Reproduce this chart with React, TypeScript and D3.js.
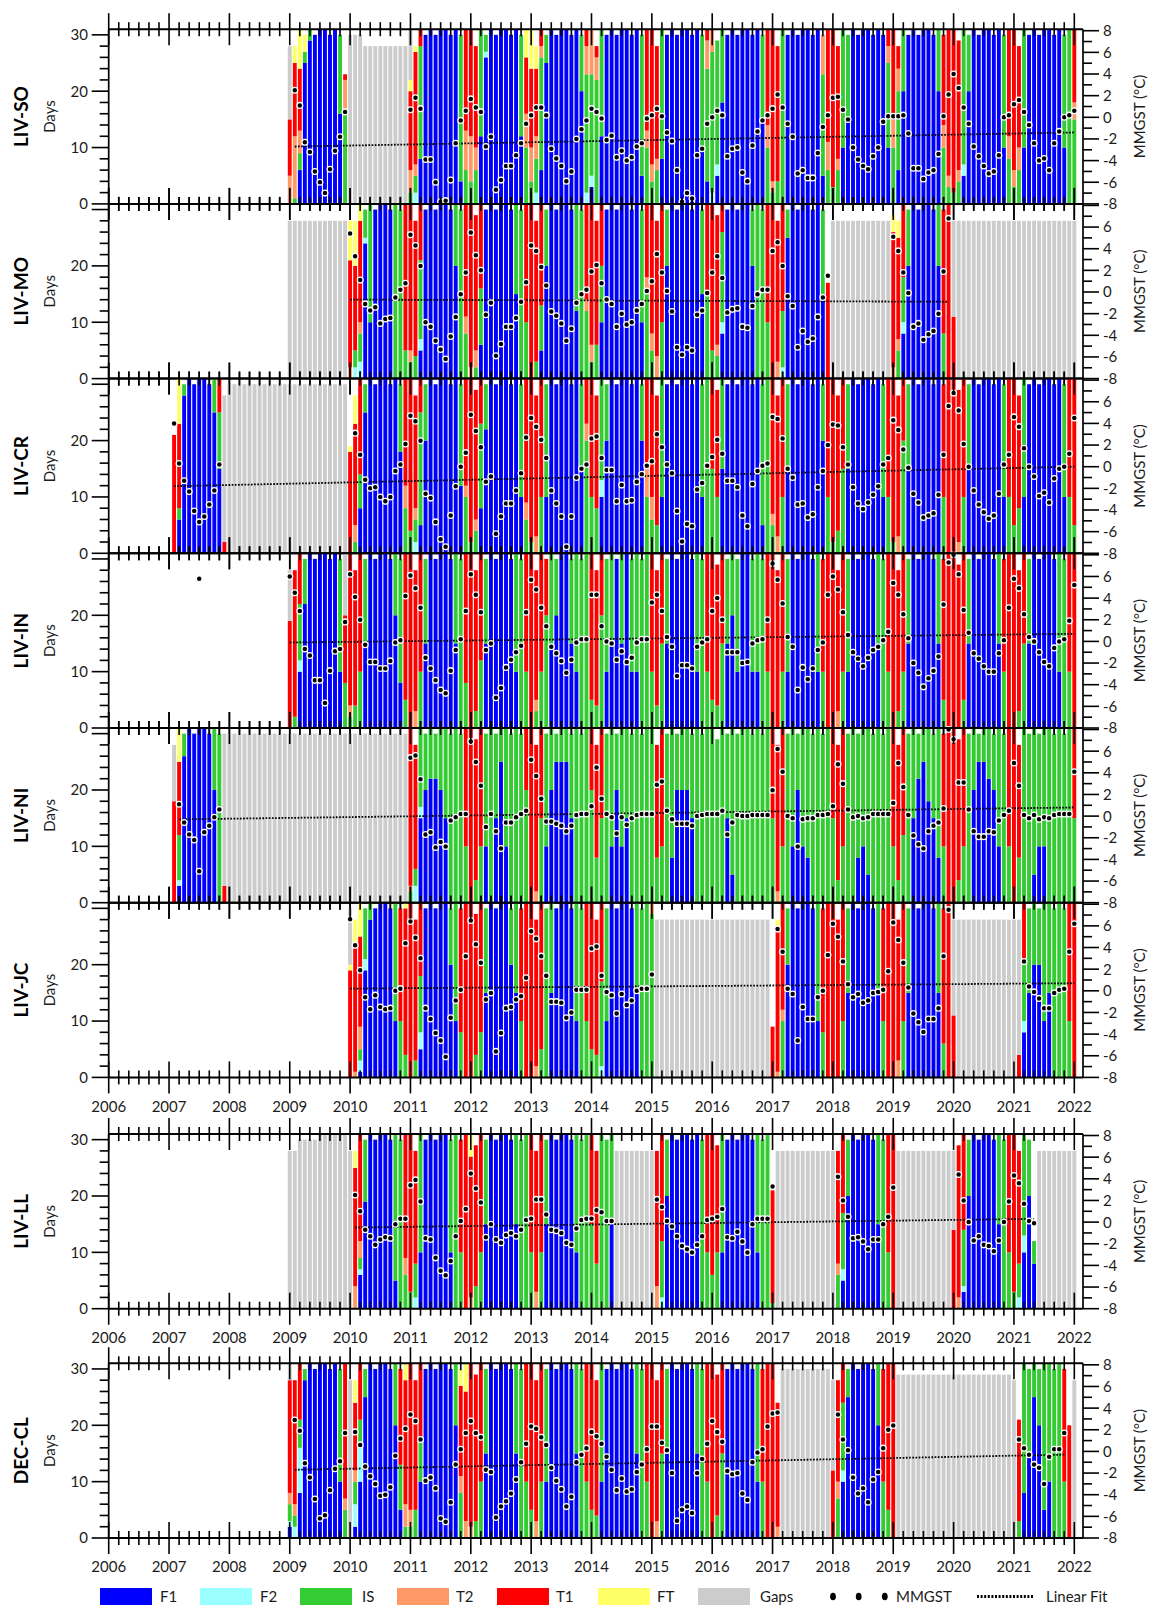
import React from "react";
import * as d3 from "d3";

// ---------- categories ----------
const CAT_KEYS = ["B", "C", "G", "O", "R", "Y", "X"];
const CAT_NAMES = ["F1", "F2", "IS", "T2", "T1", "FT", "Gaps"];
const CAT_COLORS = ["#0000FF", "#99FFFF", "#33CC33", "#FF9966", "#FF0000", "#FFFF66", "#CCCCCC"];

// ---------- tick labels ----------
const YEAR_LABELS = ["2006","2007","2008","2009","2010","2011","2012","2013","2014","2015","2016","2017","2018","2019","2020","2021","2022"];
const DAY_TICKS = [0, 10, 20, 30];
const T_TICKS = [-8, -6, -4, -2, 0, 2, 4, 6, 8];

const N = null;
const GAP12 = "X28 X28 X28 X28 X28 X28 X28 X28 X28 X28 X28 X28";
const GAP12b = "X30 X30 X30 X30 X30 X30 X30 X30 X30 X30 X30 X30";
const NONE12 = "- - - - - - - - - - - -";
const NT = [N, N, N, N, N, N, N, N, N, N, N, N];

// ---------- LIV-SO ----------
const SO_START = 2009;
const SO_BARS = [
  "O5R10X13 G1O11R13Y3 B6G3O4R11Y7 B25G2Y3 B29G2 B B B B B B16G14 G16O6R1",
  "X30 X30 X30 X28 X28 X28 X28 X28 X28 X28 X28 X28",
  "G2O4R14Y2X9 C2G3O2R20Y1 B8G20R3 B B B B B B B B4G26 G6O7R18",
  "G4O8R19 G6O4R18 B12G19 B26C1G3 B B B B B B B12G18 G10O6R10Y5",
  "G4O6R14Y7 C2G6O4R12Y4 B6G20O2R3 B25G5 B B B B B B B20G10 C2G21O5R3",
  "B3C2G18O8 G22O4R2 B12G19 B B B B B B B B5G25 G10O3R18",
  "G4O3R24 G6O2R20 B8G23 B B B B B B B B10G20 B4G20O5R2",
  "C2G25O4 B5C2G22 B18G13 B B B B B B B B15G15 G10O4R17",
  "G2O2R27 G4R24 G B B B B B B B B5G18O7 G6O5R20",
  "G3R28 G6O2R20 B10G21 B15G15 B B B B B B B B10G15O3R3",
  "G10O5R16 B6G14O4R4 B20G11 B B B B B B B20G11 G10O4R16 G3O2R26",
  "G2R29 G4O2R23 B5C2G24 B20G10 B B B B B B B10G20 G8O4R19",
  "G3O3R25 G6O4R18 B10G21 B B B B B B B B10G20 G",
  "G15O3R13",
];
const SO_T = [
  [N, 2.5, 1.1, -2.3, -3.2, -5.0, -6.0, -7.0, -4.8, -3.1, -1.8, 0.5],
  NT,
  [0.7, 1.8, 0.8, -3.9, -3.9, -6.0, -7.8, -7.7, -5.8, -2.4, -0.3, 0.6],
  [1.7, 0.9, 0.5, -2.7, -1.8, -6.7, -5.8, -4.5, -4.5, -3.5, -2.4, -0.6],
  [0.2, 0.9, 0.9, 0.2, -2.9, -3.8, -4.5, -5.9, -5.0, -2.0, -1.1, -0.3],
  [0.8, 0.5, -0.1, -2.1, -1.7, -3.7, -3.1, -4.0, -3.7, -2.7, -2.4, -0.1],
  [0.2, 0.8, 0.1, -1.4, -2.2, -4.9, -7.8, -7.0, -7.5, -3.5, -2.9, -0.6],
  [0.0, 0.6, 0.2, -3.6, -2.9, -2.8, -5.1, -5.9, -2.6, -1.3, -0.3, 0.2],
  [0.8, 2.1, 0.9, -0.6, -1.8, -5.2, -4.9, -5.6, -5.6, -3.3, -0.9, 0.2],
  [1.8, 1.9, 0.7, -0.2, -2.8, -3.9, -4.5, -4.8, -3.6, -2.8, -0.4, 0.1],
  [0.1, 0.1, 0.2, -1.5, -4.7, -4.7, -5.7, -5.1, -4.9, -3.4, 0.1, 2.1],
  [4.0, 2.7, 0.9, -0.6, -2.7, -3.6, -4.5, -5.2, -5.0, -3.5, 0.0, 0.2],
  [1.2, 1.6, 0.5, -0.7, -2.4, -4.0, -3.8, -4.9, -2.4, -1.3, 0.0, 0.2],
  [0.6],
];
const SO_FIT = [2009, 2, -2.7, 2022, 1, -1.4];

// ---------- LIV-MO ----------
const MO_START = 2009;
const MO_BARS = [
  GAP12,
  "O2R19Y7 C2G3R15Y8 C3G5O2R18Y3 B24C1G5 B10G21 B B B B G G G5R26",
  "G3O2R26 G4R24 B5C2G14R10 B B B B B B B20G11 G G8O3R20",
  "O2R29 G2O3R24 B6G10R15 B B B B B B B15G16 G G10R21",
  "R G3R25 B5G8R18 B20G10 B B B B B B12G19 G G12O2R17",
  "G3O3R25 G6R22 B10G10R11 B B B B B B B B10G20 G15O3R13",
  "G5O3R23 O4R24 G10R21 B20G10 B B B B B B B15G15 G15R16",
  "G5R26 G4O2R23 B8C2G16R5 B B B B B B20G10 G G G10R21",
  "R O3R25 C2G10R19 B25G5 B B B B B B B15G15 R17",
  GAP12,
  "O2R24Y3 G5O2R18Y3 B8C2G8R13 B20G10 B B B B B B20G11 G8R22 R",
  "R11X17 X28 X28 X28 X28 X28 X28 X28 X28 X28 X28 X28",
  GAP12,
  "X28",
];
const MO_T = [
  NT,
  [5.4, 3.3, 1.1, -1.1, -1.7, -1.4, -2.9, -2.5, -2.4, -0.5, 0.2, 0.8],
  [5.3, 4.3, 2.4, -2.8, -3.2, -4.5, -5.3, -6.2, -4.1, -2.3, -0.2, 1.8],
  [5.5, 3.4, 2.0, -2.1, -1.0, -5.9, -4.8, -3.2, -3.2, -2.4, -0.9, 0.9],
  [4.3, 3.8, 2.3, 0.6, -1.8, -2.2, -2.9, -4.5, -3.4, -1.0, -0.2, 0.2],
  [1.9, 2.5, 0.8, -0.7, -1.1, -3.2, -2.0, -3.0, -2.8, -1.7, -1.1, 0.1],
  [1.0, 3.5, 1.8, 0.1, -1.8, -5.1, -5.8, -5.1, -5.4, -2.1, -1.7, -0.1],
  [1.8, 3.3, 1.3, -1.9, -1.6, -1.5, -3.2, -3.3, -1.3, -0.2, 0.2, 0.2],
  [3.8, 4.6, 2.4, -0.4, -1.3, -5.1, -3.6, -4.6, -4.3, -2.3, -0.5, 1.5],
  NT,
  [5.1, 3.8, 1.8, -0.1, -3.2, -2.9, -4.4, -3.9, -3.6, -2.0, 1.9, 6.8],
];
const MO_FIT = [2010, 1, -0.7, 2019, 12, -0.9];

// ---------- LIV-CR ----------
const CR_START = 2007;
const CR_BARS = [
  "- R21 B6G2R15Y8 B28G2 B B B B B B25G6 B15G10R6 R2X26",
  GAP12b,
  GAP12b,
  "R18Y1 G2O3R18Y5 B8G6R17 B25G5 B B B B B B B18G12 G8O4R19",
  "G4R27 C2G4O2R20 B5G20R6 B20G10 B B B B B B B12G18 G10O2R19",
  "G2R29 G4O2R23 B8G15R8 B22G8 B B B B B B B10G20 G6O3R22",
  "G2R29 O3R25 G10R21 B10G20 B B B B B B B15G15 G20O3R8",
  "G10R21 G8R20 B10C3G18 B20G10 B B B B B B B20G10 G10O5R16",
  "G6O4R21 G5R23 B10G21 B B B B B B B B10G20 G",
  "G15R16 G10R19 B15G16 B B B B B B B B5G25 G",
  "G5O2R24 O3R25 G10R21 B15G15 B B B B B B B20G10 G10R21",
  "G2R29 G4R24 G15R16 B15G15 B B B B B B B10G20 G10R21",
  "G2R29 O3R25 G20R11 B15G15 B B B B B B G10R20 R",
  "R O2R27 G10R21 B15G15 B B B B B B B10G20 G10R21",
  "G5R26 G8R20 B10G21 B B B B B B B B10G20 G10R21",
  "G5R26",
];
const CR_T = [
  [N, 4.0, 0.3, -1.3, -2.3, -4.1, -5.1, -4.6, -3.5, -2.2, 0.2, N],
  NT,
  NT,
  [N, 3.1, 1.1, -1.2, -2.0, -1.9, -2.8, -3.2, -2.8, -0.4, 0.2, 2.1],
  [4.7, 4.2, 2.4, -2.5, -2.9, -5.1, -6.7, -7.4, -4.5, -1.8, 0.0, 1.3],
  [4.8, 3.3, 1.8, -1.4, -0.9, -6.2, -4.6, -3.4, -3.4, -2.2, -0.6, 2.7],
  [4.5, 3.7, 2.5, 0.8, -2.2, -3.4, -4.6, -7.4, -4.6, -1.0, -0.2, 0.2],
  [2.6, 2.8, 0.8, -0.3, -0.3, -3.2, -1.7, -3.2, -3.1, -1.4, -0.7, 0.1],
  [0.5, 3.0, 1.8, 0.2, -0.6, -4.1, -6.9, -5.3, -5.5, -2.1, -1.5, 0.1],
  [0.9, 2.5, 1.2, -1.3, -1.3, -1.9, -4.5, -5.5, -1.6, -0.4, 0.1, 0.3],
  [4.6, 4.4, 2.6, -0.2, -1.0, -3.5, -3.4, -4.7, -4.4, -1.9, -0.4, 2.0],
  [3.9, 3.8, 1.8, 0.2, -1.9, -3.4, -3.9, -3.3, -2.6, -1.8, 0.2, 0.8],
  [4.3, 3.4, 1.6, -0.1, -2.5, -3.3, -4.7, -4.5, -4.3, -2.6, 1.1, 5.6],
  [6.8, 5.2, 2.1, 0.0, -2.2, -3.5, -4.2, -4.8, -4.5, -2.5, 0.2, 1.1],
  [4.6, 3.7, 1.7, 0.0, -0.9, -2.7, -2.4, -3.3, -1.1, -0.2, 0.0, 1.2],
  [4.5],
];
const CR_FIT = [2007, 2, -1.8, 2022, 1, 0.0];

// ---------- LIV-IN ----------
const IN_START = 2007;
const IN_BARS = [
  NONE12,
  NONE12,
  "R19X9 G2R26 B10C2G10R9 B22G8 B B B B B B B10G20 G8R12X11",
  "G2O2R27 G4R24 G10R21 B15G15 B B B B B B20G11 B8G22 G5R26",
  "R O3R25 G10R21 B15G15 B B B B B B15G16 G G8R23",
  "R G3R25 G12R19 B15G15 B B B B B B10G21 G G10R21",
  "R G3O2R23 G10R21 G20R10 B15G16 B20G10 B B B15G15 B10G21 G G",
  "G5R26 G4R24 G20R11 B10G20 B15G16 B B15G16 B B10G20 B10G21 G G",
  "G10R21 G4R24 G15R16 B15G15 B B B B B B10G21 G G10R21",
  "G5R26 G4R25 G15R16 B15G15 B20G11 B10G20 B B B10G20 B10G21 G G10R21",
  "R R G10R21 B10G20 B B B B B B10G21 G10R20 R",
  "R O3R25 G10R21 B10G20 B B B B B B15G16 G G10R21",
  "R G3R25 G10R21 B15G15 B B B B B B15G16 G5R25 R",
  "R R G5R26 B15G15 B B B B B B15G16 G10R20 R",
  "R G3R25 G15R16 B15G15 B B B B B B10G21 G G10R21",
  "R",
];
const IN_T = [
  [N, N, N, N, N, N, 5.8, N, N, N, N, N],
  NT,
  [6.0, 4.5, 2.8, -0.7, -1.3, -3.6, -3.6, -5.7, -2.7, -0.9, -0.7, 1.8],
  [6.2, 4.1, 2.0, -0.3, -1.9, -1.9, -2.5, -2.5, -1.8, -0.1, 0.1, 4.2],
  [6.1, 4.9, 3.1, -1.5, -2.5, -3.6, -4.5, -4.8, -2.7, -0.8, 0.2, 2.8],
  [6.2, 4.3, 2.7, -0.8, -0.2, -5.2, -4.3, -2.4, -1.7, -1.0, -0.4, 2.7],
  [5.7, 4.8, 3.1, 1.4, -0.5, -1.1, -1.8, -2.9, -1.7, -0.1, 0.2, 0.2],
  [4.3, 4.3, 1.4, 0.0, -0.2, -1.7, -0.9, -1.9, -1.5, -0.1, 0.2, 0.2],
  [3.6, 4.3, 2.8, 0.4, -0.5, -3.2, -2.2, -2.2, -2.5, -0.5, -0.1, 0.2],
  [2.8, 4.0, 2.0, -1.0, -1.0, -1.0, -2.0, -1.9, -0.2, 0.1, 0.2, 2.0],
  [7.2, 5.7, 3.5, 0.4, -0.5, -4.5, -2.4, -3.5, -2.5, -0.8, -0.1, 4.3],
  [6.0, 4.8, 2.7, 0.6, -1.0, -1.6, -2.3, -1.5, -0.8, -0.5, 0.1, 0.9],
  [5.4, 4.3, 2.5, 0.3, -2.0, -2.9, -4.2, -3.4, -2.7, -1.4, 3.4, 7.3],
  [8.0, 6.2, 2.9, 0.8, -1.1, -1.6, -2.3, -2.8, -2.8, -1.1, 0.1, 3.1],
  [5.8, 4.9, 2.5, 0.4, 0.0, -1.0, -1.9, -2.3, -0.6, 0.0, 0.2, 1.9],
  [5.2],
];
const IN_FIT = [2009, 1, -0.1, 2022, 1, 0.7];

// ---------- LIV-NI ----------
const NI_START = 2007;
const NI_BARS = [
  "- R18X10 B3C1G8R13Y6 B26G4 B B B B B B20G11 G R3X27",
  GAP12b,
  GAP12b,
  GAP12b,
  "G2O1R28 C3G3R22 B15C2G14 B20G10 B22G9 B22G8 B20G11 B15G16 G G G G10R21",
  "R G4R25 G10R21 B10G20 G B15G15 B25G6 B10G21 G G G G20R11",
  "R O2R26 G15R16 B10G20 B20G11 B25G5 B25G6 B25G6 B15G15 G G G",
  "G20R11 G8R20 G15R16 G B10G21 B20G10 B10G21 B15G16 G G G G",
  "G G8R20 G10R21 G B8G23 B20G10 B20G11 B20G11 B15G15 G G G",
  "G G G B15G15 B5G26 G G G G G G G",
  "G15R16 O2R26 G10R21 G B10G21 B20G10 B10G21 B8G23 G G G G",
  "G15R16 G4R24 G10R21 G G B8G22 B10G21 B5G26 G G G G",
  "G10R21 G4R24 G12R19 G B15G16 B22G8 B25G6 B18G13 B15G15 B8G23 G10R20 R",
  "R G4R25 G10R21 G B20G11 B25G5 B25G6 B22G9 B20G10 B10G21 G G10R21",
  "R G8R20 G G B5G26 B10G20 B10G21 G G G G G",
  "G15R16",
];
const NI_T = [
  [N, N, 1.1, -0.6, -1.7, -2.2, -5.1, -1.5, -0.9, -0.1, 0.6, N],
  NT,
  NT,
  NT,
  [5.4, 5.6, 3.4, -1.7, -1.5, -2.9, -2.4, -2.8, -0.4, -0.1, 0.2, 0.2],
  [6.9, 5.0, 2.8, -1.0, 0.2, -1.4, -3.0, -0.6, -0.6, -0.1, 0.2, 0.5],
  [5.2, 3.7, 1.6, -0.5, -0.5, -0.7, -0.9, -1.4, -0.9, 0.1, 0.2, 0.2],
  [0.9, 4.5, 1.6, 0.2, -0.1, -1.6, -0.1, -0.8, -0.2, 0.1, 0.2, 0.2],
  [0.2, 2.9, 3.2, 0.5, -0.3, -0.7, -0.7, -0.7, -0.9, 0.0, 0.1, 0.2],
  [0.2, 0.2, 0.5, -1.7, -0.6, 0.1, 0.0, 0.0, 0.1, 0.1, 0.1, 0.1],
  [2.4, 6.2, 4.1, 0.0, -0.2, -2.8, -0.3, -0.2, -0.2, 0.1, 0.1, 0.2],
  [0.9, 4.8, 3.0, 0.6, -0.1, 0.0, -0.2, -0.1, 0.2, 0.2, 0.2, 0.2],
  [1.2, 4.9, 2.7, 0.1, -1.8, -2.6, -3.0, -1.4, -0.9, -0.6, 0.7, 8.0],
  [7.1, 3.1, 3.1, 0.6, -1.4, -1.9, -1.9, -1.4, -1.5, -0.4, 0.1, 0.5],
  [4.9, 2.8, 0.1, -0.2, 0.1, -0.3, -0.1, -0.2, 0.1, 0.2, 0.2, 0.2],
  [4.1],
];
const NI_FIT = [2007, 3, -0.3, 2022, 1, 0.8];

// ---------- LIV-JC ----------
const JC_START = 2010;
const JC_BARS = [
  "R19Y1X10 O1R23Y4 B1C2G2O4R16Y6 B19C2G9 B28G3 B B B B B10G21 G10R20 G4R26Y1",
  "R G3R25 B5C3G10R13 B B B B B B20G10 B10G21 G8R22 R",
  "R G4R25 G8R23 B15G15 B B B B B20G10 B15G16 G10R20 R",
  "R O2R26 G5R26 G B15G16 B B B B B10G21 G G10R21",
  "G5R26 G4R24 C2G15R14 B10G20 B B B B B B15G16 G G",
  "G29O2 X28 X28 X28 X28 X28 X28 X28 X28 X28 X28 X28",
  GAP12,
  "R9 O1R25Y2 G10O2R19 B20G10 B B B B B B10G21 G8R22 R",
  "R R G10R21 B15G15 B B B B B B15G16 G10R20 R",
  "R O3R25 G10R21 B15G15 B B B B B B15G16 G6R24 R",
  "R11X17 X28 X28 X28 X28 X28 X28 X28 X28 X28 X28 X28",
  "X28 R4X24 B8C2G10R11 B15G15 B20G11 B20G10 B10G21 B15G16 G G G G10R21",
  "R",
];
const JC_T = [
  [6.6, 4.2, 1.9, -0.6, -1.7, -0.4, -1.5, -1.7, -1.6, 0.0, 0.2, 4.4],
  [6.4, 4.9, 3.0, -1.6, -2.6, -3.9, -4.6, -6.1, -2.5, -0.9, 0.1, 3.2],
  [6.5, 4.3, 2.6, -0.8, -0.2, -5.6, -3.9, -1.6, -1.5, -0.8, -0.5, 1.2],
  [5.5, 4.8, 3.2, 1.4, -1.0, -1.0, -1.1, -2.5, -2.0, 0.1, 0.1, 0.1],
  [3.9, 4.1, 1.4, -0.1, -0.4, -2.1, -0.3, -1.3, -0.9, 0.0, 0.2, 0.2],
  [1.5, N, N, N, N, N, N, N, N, N, N, N],
  NT,
  [N, 5.7, 3.6, 0.2, -0.3, -4.6, -1.5, -2.6, -2.6, -0.6, 0.0, 3.3],
  [6.2, 5.0, 2.7, 0.6, -0.6, -0.3, -1.1, -0.9, -0.2, -0.1, 0.1, 1.8],
  [6.3, 4.7, 2.6, 0.3, -2.1, -2.9, -3.8, -2.6, -2.6, -1.6, 3.2, 7.5],
  NT,
  [N, N, 2.7, 0.4, -0.1, -0.7, -1.6, -1.6, -0.2, 0.1, 0.2, 3.6],
  [6.2],
];
const JC_FIT = [2010, 1, 0.2, 2022, 1, 0.7];

// ---------- LIV-LL ----------
const LL_START = 2009;
const LL_BARS = [
  "X28 X28 X30 X30 X30 X30 X31 X31 X31 X31 X31 X31",
  "X28 O4R21Y3 B6C1G2O3R19 B19G11 B B B B B B5G26 G G6O3R22",
  "G3R28 C2G6R20 B10G21 B B B B B B10G20 G G10R20 R",
  "O2R25Y4 G4R25 G10R21 B15G15 B B B B B B15G16 G G",
  "G10R21 O3R25 G10R21 B15G15 B B B B B B10G21 G G",
  "G15R16 G8R20 G G B15G16 X28 X28 X28 X28 X28 X28 X28",
  "X28 O4R24 C2G10R19 B20G10 B B B B B B G G10R21",
  "G6R25 G10R19 B10G21 B B B B B B B10G21 G G",
  "G1R20 X28 X28 X28 X28 X28 X28 X28 X28 X28 X28 X28",
  "X28 G6O2R20 B5C2G10R14 B20G10 B B B B B B15G16 G G10R21",
  "R X28 X28 X28 X28 X28 X28 X28 X28 X28 X28 X28",
  "R14X14 O2R27 B3C1G10R17 B20G10 B B B B B B15G16 G G10R21",
  "G3R28 C2G6R20 B10C3G18 B20G10 B8G4 X28 X28 X28 X28 X28 X28 X28",
  "X28",
];
const LL_T = [
  NT,
  [N, 2.5, 1.0, -0.7, -1.3, -2.1, -1.6, -1.4, -1.5, -0.2, 0.3, 0.3],
  [3.4, 3.9, 1.9, -1.5, -1.6, -3.3, -4.5, -4.9, -3.6, -1.3, 0.1, 1.2],
  [4.5, 3.1, 1.8, -1.4, -0.2, -1.6, -1.9, -1.2, -1.0, -1.3, -0.7, 0.2],
  [0.3, 2.1, 2.1, 0.7, -0.7, -0.8, -1.0, -1.9, -2.1, -0.6, 0.2, 0.3],
  [0.3, 1.1, 0.9, 0.1, 0.1, N, N, N, N, N, N, N],
  [N, 2.1, 1.4, 0.1, -0.4, -1.3, -2.2, -2.5, -2.8, -2.1, -1.3, 0.2],
  [0.3, 0.5, 1.2, -1.4, -1.5, -0.9, -1.8, -2.8, -0.2, 0.3, 0.3, 0.3],
  [3.3, N, N, N, N, N, N, N, N, N, N, N],
  [N, 4.2, 2.0, 0.5, -1.5, -1.4, -1.8, -2.5, -1.6, -1.6, -0.2, 0.5],
  [3.2, N, N, N, N, N, N, N, N, N, N, N],
  [N, 4.4, 2.0, 0.0, -1.7, -1.3, -2.1, -2.2, -2.7, -1.7, 0.0, 1.9],
  [4.3, 3.6, 1.7, 0.1, -0.1, N, N, N, N, N, N, N],
];
const LL_FIT = [2010, 2, -0.5, 2021, 5, 0.3];

// ---------- DEC-CL ----------
const CL_START = 2009;
const CL_BARS = [
  "B2C1G3O2R20X3 C2G2O2R22 B8C8G5R10 B28G2 B B B B B B B10G20 G5O2R24",
  "X28 B2C4G4O2R12Y4 B10C6G5R10 B25G5 B B B B B B20G11 B5G8R17 G2O4R22Y3",
  "G2O3R26 G5R23 B10G8R13 B B B B B B B20G11 G8O3R16Y3 O3R23Y5",
  "O2R29 G3R26 G10R21 B15G15 B B B B B B15G16 G G10R21",
  "G5R26 O3R25 G10R21 B10G20 B B B B B B15G16 G G10R21",
  "G5R26 G4R24 B10G21 B B B B B B B15G16 G G10R21",
  "R O3R25 G15R16 B15G15 B B B B B B15G16 G G10R21",
  "R G4R25 G15R16 B B B B B B B10G21 G10R20 R",
  "R O2R22 X30 X30 X30 X30 X30 X30 X30 X30 X30 X30",
  "R12X16 G7O3R18 B10C2G12R7 B25G5 B B B B B B20G11 G10R20 G5R26",
  "R X29 X29 X29 X29 X29 X29 X29 X29 X29 X29 X29",
  "X29 X29 X29 X29 X29 X29 X29 X29 X29 X29 X29 X29",
  "X28 G3R18 B8G23 B15G15 B25G6 B20G10 B5G26 B10G21 G G G10R20 R20",
  "X28",
];
const CL_T = [
  [N, 2.9, 1.9, -1.1, -2.4, -4.4, -6.2, -5.9, -3.6, -1.6, -0.9, 1.7],
  [N, 1.8, 0.6, -1.4, -2.3, -3.0, -4.1, -4.0, -3.3, -0.4, 1.2, 2.1],
  [3.4, 2.8, 1.1, -2.7, -2.4, -3.4, -6.2, -6.5, -4.7, -1.2, 0.2, 1.7],
  [2.8, 1.7, 1.3, -1.7, -1.9, -6.1, -5.1, -4.6, -3.9, -2.6, -1.0, 0.7],
  [2.3, 2.1, 1.3, 0.6, -1.5, -2.7, -3.5, -5.1, -4.2, -1.0, -0.3, 0.3],
  [1.8, 1.4, 0.7, -0.5, -1.7, -3.6, -2.5, -3.7, -3.5, -1.9, -1.2, 0.2],
  [2.3, 2.3, 0.8, 0.1, -2.0, -6.4, -5.4, -5.1, -5.7, -2.0, -0.7, 0.7],
  [2.8, 1.8, 0.9, -1.8, -2.1, -2.0, -3.9, -4.5, -1.0, -0.1, 0.2, 2.3],
  [3.5, 3.6, N, N, N, N, N, N, N, N, N, N],
  [N, 3.4, 1.1, 0.1, -2.4, -3.9, -3.4, -4.7, -2.6, -1.9, 0.3, 2.0],
  [2.4, N, N, N, N, N, N, N, N, N, N, N],
  NT,
  [N, 1.1, 0.3, -0.3, -1.2, -1.5, -3.0, -0.5, 0.2, 0.2, 1.7, N],
];
const CL_FIT = [2009, 2, -1.7, 2021, 11, -0.3];

const STATION_NAMES = ["LIV-SO", "LIV-MO", "LIV-CR", "LIV-IN", "LIV-NI", "LIV-JC", "LIV-LL", "DEC-CL"];

// ---------- layout ----------
const W = 1151;
const H = 1608;
const X0 = 108.7;
const X1 = 1074.3;
const XR = 1083;
const PANEL_TOPS = [29.2, 203.9, 378.6, 553.3, 728, 902.7, 1134, 1363.3];
const PANEL_H = 174.7;
const FONT = "Lato, 'Open Sans', 'DejaVu Sans', sans-serif";
const TXT = "#1c1c1c";

const xScale = d3.scaleLinear().domain([0, 192]).range([X0, X1]);

function parseMonth(tok, days) {
  const vals = [0, 0, 0, 0, 0, 0, 0];
  if (!tok || tok === "-") return vals;
  const re = /([BCGORYX])(\d*)/g;
  let m;
  let rest = -1;
  let sum = 0;
  while ((m = re.exec(tok))) {
    const k = CAT_KEYS.indexOf(m[1]);
    if (m[2] === "") rest = k;
    else {
      vals[k] += +m[2];
      sum += +m[2];
    }
  }
  if (rest >= 0) vals[rest] += Math.max(0, days - sum);
  return vals;
}

function buildStation(name, startYear, bars, temps, fit) {
  const tokens = bars.join(" ").trim().split(/\s+/);
  const months = tokens.map((tok, i) => {
    const y = startYear + Math.floor(i / 12);
    const mo = i % 12;
    const days = new Date(Date.UTC(y, mo + 1, 0)).getUTCDate();
    return { idx: (startYear - 2006) * 12 + i, vals: parseMonth(tok, days) };
  });
  const t = [];
  temps.forEach((yr, yi) => yr.forEach((v, mi) => {
    if (v !== null && v !== undefined) t.push({ idx: (startYear - 2006) * 12 + yi * 12 + mi, v });
  }));
  const fitLine = {
    i0: (fit[0] - 2006) * 12 + fit[1] - 1, v0: fit[2],
    i1: (fit[3] - 2006) * 12 + fit[4] - 1, v1: fit[5],
  };
  return { name, months, temps: t, fit: fitLine };
}

const STATIONS = [
  buildStation(STATION_NAMES[0], SO_START, SO_BARS, SO_T, SO_FIT),
  buildStation(STATION_NAMES[1], MO_START, MO_BARS, MO_T, MO_FIT),
  buildStation(STATION_NAMES[2], CR_START, CR_BARS, CR_T, CR_FIT),
  buildStation(STATION_NAMES[3], IN_START, IN_BARS, IN_T, IN_FIT),
  buildStation(STATION_NAMES[4], NI_START, NI_BARS, NI_T, NI_FIT),
  buildStation(STATION_NAMES[5], JC_START, JC_BARS, JC_T, JC_FIT),
  buildStation(STATION_NAMES[6], LL_START, LL_BARS, LL_T, LL_FIT),
  buildStation(STATION_NAMES[7], CL_START, CL_BARS, CL_T, CL_FIT),
];

const MONTH_TICKS = d3.range(0, 193, 2);

function HAxis({ y }) {
  return (
    <g>
      <line x1={X0} x2={XR} y1={y} y2={y} stroke="#000" strokeWidth={2} />
      {MONTH_TICKS.map((m) => {
        const major = m % 12 === 0;
        const len = major ? 16 : 7;
        const x = xScale(m);
        return <line key={m} x1={x} x2={x} y1={y - len} y2={y + len} stroke="#000" strokeWidth={1.6} />;
      })}
    </g>
  );
}

function Panel({ st, k }) {
  const top = PANEL_TOPS[k];
  const bottom = top + PANEL_H;
  const yD = d3.scaleLinear().domain([0, 31]).range([bottom, top]);
  const yT = d3.scaleLinear().domain([-8, 8.14]).range([bottom, top]);
  const mid = (top + bottom) / 2;
  const showTopLabels = k === 0 || k >= 6;
  const barW = 3.9;
  const fitD = d3.line()([[xScale(st.fit.i0), yT(st.fit.v0)], [xScale(st.fit.i1), yT(st.fit.v1)]]);
  const dayTicks = d3.range(0, 31, 2);
  const tTicks = d3.range(-8, 9, 1);
  return (
    <g>
      {st.months.map((mo) => {
        let acc = 0;
        const x = xScale(mo.idx) - barW / 2;
        return (
          <g key={mo.idx}>
            {mo.vals.map((v, ci) => {
              if (v <= 0) return null;
              const y0 = yD(acc);
              acc += v;
              const y1 = yD(acc);
              return <rect key={ci} x={x} y={y1} width={barW} height={y0 - y1} fill={CAT_COLORS[ci]} />;
            })}
          </g>
        );
      })}
      <path d={fitD} stroke="#000" strokeWidth={1.8} strokeDasharray="1.7 1.5" fill="none" />
      {st.temps.map((p) => (
        <circle key={p.idx} cx={xScale(p.idx)} cy={yT(p.v)} r={2.9} fill="#000" stroke="#fff" strokeWidth={1.3} />
      ))}
      <line x1={X0} x2={X0} y1={top} y2={bottom} stroke="#000" strokeWidth={1.7} />
      <line x1={XR} x2={XR} y1={top} y2={bottom} stroke="#000" strokeWidth={1.7} />
      <HAxis y={top} />
      <HAxis y={bottom} />
      {dayTicks.map((d) => {
        const major = d % 10 === 0;
        return <line key={d} x1={X0 - (major ? 17 : 9)} x2={X0} y1={yD(d)} y2={yD(d)} stroke="#000" strokeWidth={1.6} />;
      })}
      {DAY_TICKS.filter((d) => d < 30 || showTopLabels).map((d) => (
        <text key={d} x={88} y={yD(d)} dy="0.36em" textAnchor="end" fontSize={15} fontFamily={FONT} fill={TXT}>{d}</text>
      ))}
      {tTicks.map((t) => {
        const major = t % 2 === 0;
        return <line key={t} x1={XR} x2={XR + (major ? 16 : 9)} y1={yT(t)} y2={yT(t)} stroke="#000" strokeWidth={1.6} />;
      })}
      {T_TICKS.filter((t) => t < 8 || showTopLabels).map((t) => (
        <text key={t} x={1103} y={yT(t)} dy="0.36em" textAnchor="start" fontSize={15} fontFamily={FONT} fill={TXT}>{t}</text>
      ))}
      <text transform={`translate(21,${mid}) rotate(-90)`} dy="0.36em" textAnchor="middle" fontSize={19} fontWeight="bold" fontFamily={FONT} fill="#000">{st.name}</text>
      <text transform={`translate(50,${mid}) rotate(-90)`} dy="0.36em" textAnchor="middle" fontSize={15} fontFamily={FONT} fill={TXT}>Days</text>
      <text transform={`translate(1140,${mid}) rotate(-90)`} dy="0.36em" textAnchor="middle" fontSize={15} fontFamily={FONT} fill={TXT}>MMGST (°C)</text>
      {k >= 5 && YEAR_LABELS.map((lab, i) => (
        <text key={lab} x={xScale(i * 12)} y={bottom + 29} dy="0.36em" textAnchor="middle" fontSize={15} fontFamily={FONT} fill={TXT}>{lab}</text>
      ))}
    </g>
  );
}

const LEGEND_RECT_X = [100, 200, 300, 397, 497, 598, 698];
const LEGEND_TEXT_X = [160, 260, 362, 456, 556, 657, 760];

function Legend() {
  const yc = 1596.5;
  return (
    <g>
      {CAT_NAMES.map((n, i) => (
        <g key={n}>
          <rect x={LEGEND_RECT_X[i]} y={yc - 8.5} width={52} height={17} fill={CAT_COLORS[i]} />
          <text x={LEGEND_TEXT_X[i]} y={yc} dy="0.36em" fontSize={15} fontFamily={FONT} fill={TXT}>{n}</text>
        </g>
      ))}
      {[833, 858.7, 884.8].map((x) => (
        <ellipse key={x} cx={x} cy={yc} rx={2.9} ry={3.8} fill="#000" />
      ))}
      <text x={896} y={yc} dy="0.36em" fontSize={15} fontFamily={FONT} fill={TXT}>MMGST</text>
      <line x1={977} x2={1033} y1={yc} y2={yc} stroke="#000" strokeWidth={3} strokeDasharray="2 1.6" />
      <text x={1046} y={yc} dy="0.36em" fontSize={15} fontFamily={FONT} fill={TXT}>Linear Fit</text>
    </g>
  );
}

export default function App() {
  return (
    <svg width={W} height={H} viewBox={`0 0 ${W} ${H}`} style={{ position: "absolute", left: 0, top: 0, background: "#fff" }}>
      <rect x={0} y={0} width={W} height={H} fill="#fff" />
      {STATIONS.map((st, k) => (
        <Panel key={st.name} st={st} k={k} />
      ))}
      <Legend />
    </svg>
  );
}
